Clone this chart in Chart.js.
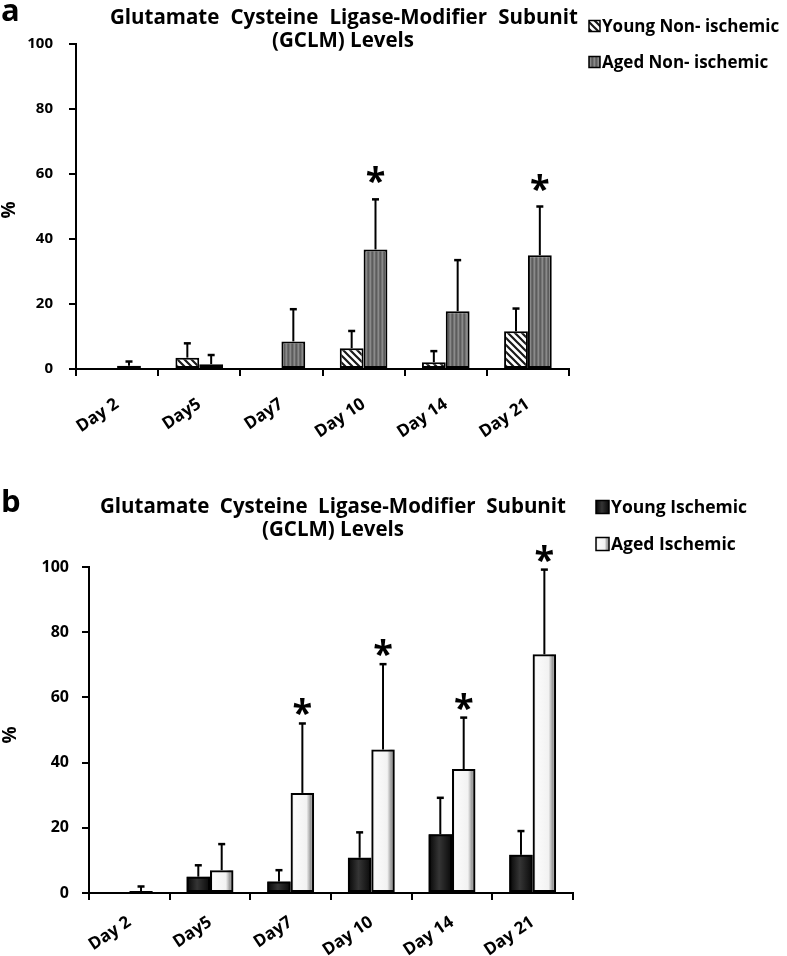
<!DOCTYPE html>
<html>
<head>
<meta charset="utf-8">
<script src="https://cdn.jsdelivr.net/npm/chart.js@4.4.1/dist/chart.umd.min.js"></script>
<style>
  html, body { margin: 0; padding: 0; background: #fff; }
  #wrapA { position: absolute; left: 0; top: 0; width: 787px; height: 470px; }
  #wrapB { position: absolute; left: 0; top: 470px; width: 787px; height: 486px; }
</style>
</head>
<body>
<div id="wrapA"><canvas id="chartA"></canvas></div>
<div id="wrapB"><canvas id="chartB"></canvas></div>
<script>
const days = ['Day 2', 'Day5', 'Day7', 'Day 10', 'Day 14', 'Day 21'];
const yTicks = [0, 20, 40, 60, 80, 100];

// panel a - non-ischemic
const youngNonIsch = [0.1, 3.5, 0, 6.4, 2.1, 11.6];
const youngNonIschErr = [0, 4.4, 0, 5.3, 3.4, 7.0];
const agedNonIsch = [1.0, 1.5, 8.5, 36.8, 17.8, 35.0];
const agedNonIschErr = [1.3, 2.8, 9.9, 15.4, 15.7, 15.0];
const starsA = [0, 0, 0, 1, 0, 1];

// panel b - ischemic
const youngIsch = [0, 5.0, 3.5, 10.8, 18.0, 11.7];
const youngIschErr = [0, 3.5, 3.5, 7.8, 11.2, 7.3];
const agedIsch = [0.6, 7.0, 30.7, 44.0, 38.0, 73.2];
const agedIschErr = [1.4, 8.0, 21.3, 26.2, 15.8, 26.0];
const starsB = [0, 0, 1, 1, 1, 1];

const FONT = '"Open Sans", "Noto Sans", sans-serif';

// hatched fill (white with "\" stripes)
function hatchPattern() {
  const c = document.createElement('canvas');
  c.width = c.height = 7;
  const g = c.getContext('2d');
  g.fillStyle = '#fff';
  g.fillRect(0, 0, 7, 7);
  g.strokeStyle = '#1a1a1a';
  g.lineWidth = 2.2;
  g.beginPath();
  g.moveTo(-1, -1); g.lineTo(8, 8);
  g.moveTo(-1, 6); g.lineTo(1, 8);
  g.moveTo(6, -1); g.lineTo(8, 1);
  g.stroke();
  return g.createPattern(c, 'repeat');
}

// gray fill with vertical stripes
function stripePattern() {
  const c = document.createElement('canvas');
  c.width = 4; c.height = 4;
  const g = c.getContext('2d');
  const cols = ['#5c5c5c', '#767676', '#8a8a8a', '#6a6a6a'];
  cols.forEach((col, i) => { g.fillStyle = col; g.fillRect(i, 0, 1, 4); });
  return g.createPattern(c, 'repeat');
}

const shades = {
  black: [[0, '#050505'], [0.45, '#353535'], [1, '#080808']],
  white: [[0, '#d8d8d8'], [0.15, '#fbfbfb'], [0.68, '#f2f2f2'], [0.85, '#9a9a9a'], [1, '#c4c4c4']]
};

function shadeGradient(ctx, left, width, name) {
  const gr = ctx.createLinearGradient(left, 0, left + width, 0);
  shades[name].forEach(s => gr.addColorStop(s[0], s[1]));
  return gr;
}

// gradient bars (panel b) drawn under the bar borders
const shadePlugin = {
  id: 'shade',
  beforeDatasetsDraw(chart) {
    const ctx = chart.ctx;
    chart.data.datasets.forEach((ds, di) => {
      if (!ds.shade) return;
      chart.getDatasetMeta(di).data.forEach(bar => {
        const { x, y, base, width } = bar.getProps(['x', 'y', 'base', 'width'], true);
        const left = x - width / 2;
        ctx.save();
        ctx.fillStyle = shadeGradient(ctx, left, width, ds.shade);
        ctx.fillRect(left, y, width, base - y);
        ctx.restore();
      });
    });
  }
};

// one-sided error bars and significance stars
const errorPlugin = {
  id: 'errors',
  afterDatasetsDraw(chart, args, opts) {
    const ctx = chart.ctx;
    const yScale = chart.scales.y;
    chart.data.datasets.forEach((ds, di) => {
      chart.getDatasetMeta(di).data.forEach((bar, i) => {
        const err = ds.errors[i];
        const v = ds.data[i];
        const top = yScale.getPixelForValue(v + err);
        ctx.save();
        ctx.strokeStyle = '#000';
        if (err > 0) {
          ctx.lineWidth = 2;
          ctx.beginPath();
          ctx.moveTo(bar.x, bar.y);
          ctx.lineTo(bar.x, top);
          ctx.stroke();
          ctx.lineWidth = 2.5;
          ctx.beginPath();
          ctx.moveTo(bar.x - 3.5, top);
          ctx.lineTo(bar.x + 3.5, top);
          ctx.stroke();
        }
        if (ds.stars && ds.stars[i]) {
          ctx.fillStyle = '#000';
          ctx.font = 'bold ' + opts.starSize + 'px ' + FONT;
          ctx.textAlign = 'center';
          ctx.textBaseline = 'alphabetic';
          const m = ctx.measureText('*');
          const cy = top - opts.starGap;
          ctx.fillText('*', bar.x, cy + (m.actualBoundingBoxAscent - m.actualBoundingBoxDescent) / 2);
        }
        ctx.restore();
      });
    });
  }
};

// panel letter, title, % label and legend
const decorPlugin = {
  id: 'decor',
  afterDraw(chart, args, p) {
    const ctx = chart.ctx;
    ctx.save();
    ctx.fillStyle = '#000';
    ctx.textBaseline = 'alphabetic';

    ctx.font = 'bold 31px ' + FONT;
    ctx.textAlign = 'left';
    ctx.fillText(p.letter, 1, p.letterY);

    // title line 1, spread between x1 and x2
    ctx.font = 'bold ' + p.titleSize + 'px ' + FONT;
    const words = p.title1.split(' ');
    const widths = words.map(w => ctx.measureText(w).width);
    const gap = (p.title1X[1] - p.title1X[0] - widths.reduce((a, b) => a + b, 0)) / (words.length - 1);
    let x = p.title1X[0];
    words.forEach((w, i) => { ctx.fillText(w, x, p.title1Y); x += widths[i] + gap; });
    ctx.textAlign = 'center';
    ctx.fillText(p.title2, p.title2X, p.title2Y);

    // y axis label
    ctx.save();
    ctx.translate(p.pctX, p.pctY);
    ctx.rotate(-Math.PI / 2);
    ctx.font = 'bold 19px ' + FONT;
    ctx.textAlign = 'center';
    ctx.textBaseline = 'middle';
    ctx.fillText('%', 0, 0);
    ctx.restore();

    // legend
    ctx.font = 'bold ' + p.legendSize + 'px ' + FONT;
    ctx.textAlign = 'left';
    ctx.textBaseline = 'middle';
    chart.data.datasets.forEach((ds, i) => {
      const cy = p.legendY[i];
      const bx = p.legendX, s = p.boxSize;
      ctx.fillStyle = ds.shade ? shadeGradient(ctx, bx, s, ds.shade) : ds.backgroundColor;
      ctx.fillRect(bx, cy - s / 2, s, s);
      ctx.strokeStyle = '#000';
      ctx.lineWidth = 1.5;
      ctx.strokeRect(bx, cy - s / 2, s, s);
      ctx.fillStyle = '#000';
      ctx.fillText(ds.label, bx + s + 2, cy + 1);
    });
    ctx.restore();
  }
};

function makePanel(id, p) {
  const sets = p.series.map(s => ({
    label: s.name,
    data: s.values,
    errors: s.errors,
    stars: s.stars,
    shade: s.shade,
    backgroundColor: s.fill,
    borderColor: '#000',
    borderWidth: 2,
    borderSkipped: false,
    categoryPercentage: 0.58,
    barPercentage: 1
  }));
  return new Chart(document.getElementById(id), {
    type: 'bar',
    data: { labels: days, datasets: sets },
    options: {
      responsive: true,
      maintainAspectRatio: false,
      animation: false,
      layout: { padding: { left: 0, right: 787 - p.area.right, top: p.area.top, bottom: 0 } },
      plugins: {
        legend: { display: false },
        tooltip: { enabled: false },
        decor: p.decor,
        errors: { starSize: 36, starGap: p.starGap }
      },
      scales: {
        x: {
          grid: { offset: true, drawOnChartArea: false, tickLength: 7, color: '#000', lineWidth: 2 },
          border: { color: '#000', width: 2 },
          ticks: { color: '#000', font: { family: FONT, size: 17, weight: 'bold' }, minRotation: 34, maxRotation: 34, padding: p.xPad },
          afterFit: s => { s.height = p.height - p.area.bottom; }
        },
        y: {
          min: 0,
          max: 100,
          afterBuildTicks: s => { s.ticks = yTicks.map(v => ({ value: v })); },
          grid: { drawOnChartArea: false, tickLength: 7, color: '#000', lineWidth: 2 },
          border: { color: '#000', width: 2 },
          ticks: { color: '#000', font: { family: FONT, size: p.tickSize, weight: 'bold' }, padding: p.yPad },
          afterFit: s => { s.width = p.area.left; }
        }
      }
    },
    plugins: [shadePlugin, errorPlugin, decorPlugin]
  });
}

makePanel('chartA', {
  height: 470,
  area: { left: 76, right: 569, top: 44, bottom: 369 },
  tickSize: 15,
  yPad: 16,
  xPad: 18,
  starGap: 24,
  series: [
    { name: 'Young Non- ischemic', values: youngNonIsch, errors: youngNonIschErr, fill: hatchPattern() },
    { name: 'Aged Non- ischemic', values: agedNonIsch, errors: agedNonIschErr, stars: starsA, fill: stripePattern() }
  ],
  decor: {
    letter: 'a', letterY: 21,
    title1: 'Glutamate Cysteine Ligase-Modifier Subunit', title1X: [110, 578], title1Y: 24,
    title2: '(GCLM) Levels', title2X: 343, title2Y: 47, titleSize: 20.5,
    pctX: 10, pctY: 210,
    legendX: 589, legendY: [26, 62], boxSize: 11, legendSize: 17
  }
});

makePanel('chartB', {
  height: 486,
  area: { left: 89, right: 573, top: 97, bottom: 423 },
  tickSize: 16,
  yPad: 13,
  xPad: 12,
  starGap: 16,
  series: [
    { name: 'Young Ischemic', values: youngIsch, errors: youngIschErr, fill: 'rgba(0,0,0,0)', shade: 'black' },
    { name: 'Aged Ischemic', values: agedIsch, errors: agedIschErr, stars: starsB, fill: 'rgba(0,0,0,0)', shade: 'white' }
  ],
  decor: {
    letter: 'b', letterY: 42,
    title1: 'Glutamate Cysteine Ligase-Modifier Subunit', title1X: [100, 566], title1Y: 43,
    title2: '(GCLM) Levels', title2X: 333, title2Y: 66, titleSize: 20.5,
    pctX: 11, pctY: 265,
    legendX: 596, legendY: [37, 74], boxSize: 13, legendSize: 17.5
  }
});
</script>
</body>
</html>
